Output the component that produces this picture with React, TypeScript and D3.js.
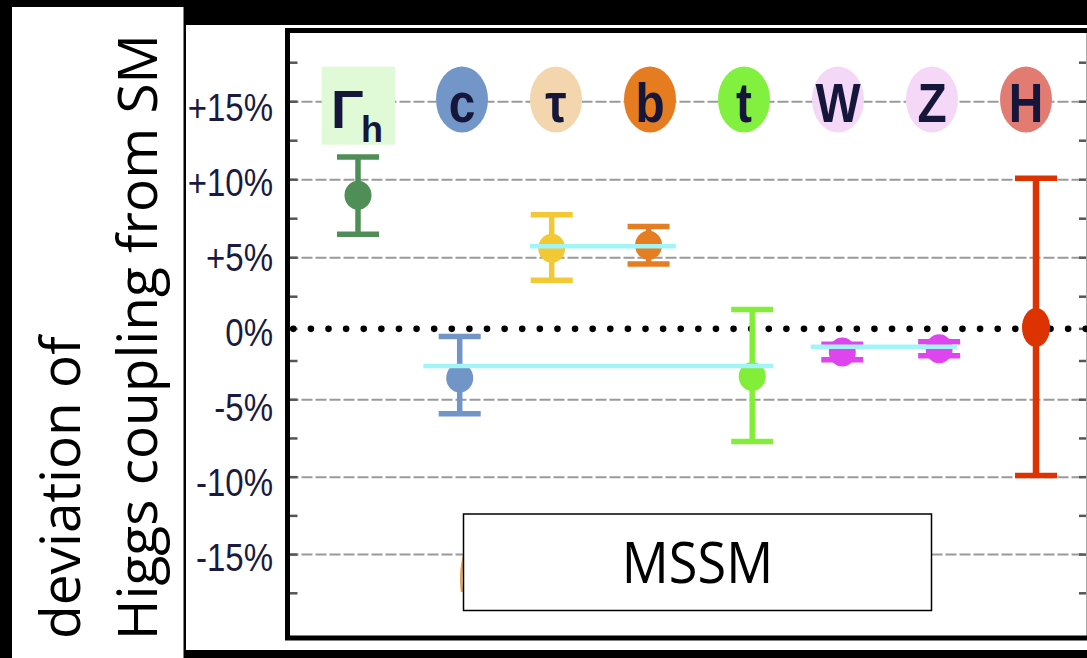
import React from "react";
import * as d3 from "d3";

// ---- data ----
const categories = ["Γh", "c", "τ", "b", "t", "W", "Z", "H"];
// position of each error bar along the category axis (category units)
const barPos = [0, 1.05, 2, 3, 4.07, 5, 6, 7];
const central = [9.0, -3.6, 5.6, 5.8, -3.5, -1.8, -1.55, 0.1];
const upper = [11.45, -0.6, 7.75, 7.0, 1.5, -1.2, -1.0, 10.1];
const lower = [6.5, -5.9, 3.55, 4.6, -7.7, -2.4, -2.1, -9.9];

// MSSM correlated predictions (cyan bands): from / to (category units) and value (%)
const groupFrom = [0.674, 1.776, 4.674];
const groupTo = [4.288, 3.282, 6.187];
const groupValue = [-2.82, 5.73, -1.39];

const tickValues = [15, 10, 5, 0, -5, -10, -15];
const tickLabels = ["+15%", "+10%", "+5%", "0%", "-5%", "-10%", "-15%"];
const gridValues = [15, 10, 5, -5, -10, -15];
const minorValues = [17.5, 12.5, 7.5, 2.5, -2.5, -7.5, -12.5, -17.5];

const barColors = ["#4f8f57", "#7195c6", "#f2c935", "#e57d22", "#82ee3a", "#de45ef", "#de45ef", "#dd3300"];
const labelFills = ["#e0fad7", "#7396c8", "#f4d6ae", "#e57c20", "#82f03e", "#f5d8f8", "#f5d8f8", "#e27c72"];

const axisTitle1 = "deviation of";
const axisTitle2 = "Higgs coupling from SM";
const modelName = "MSSM";

export default function App() {
  const W = 1087;
  const H = 658;
  const frameL = 287.5;
  const frameT = 30.5;
  const frameB = 638;
  const rightEdge = 1087;

  const y = d3.scaleLinear().domain([-17.5, -2.5, 2.5, 17.5]).range([593.3, 361, 296.7, 62.7]);
  const yLab = d3.scaleLinear().domain([-15, 15]).range([557.5, 107.5]);
  const x = d3.scaleLinear().domain([0, 7]).range([358, 1036]);
  const xLab = d3.scalePoint<string>().domain(categories).range([368, 1026]);

  const labelColor = "#16163a";
  const capHalf = 21;

  return (
    <svg
      width={W}
      height={H}
      style={{ position: "fixed", left: 0, top: 0, display: "block" }}
      xmlns="http://www.w3.org/2000/svg"
    >
      <defs>
        <filter id="blur" x="-5%" y="-200%" width="110%" height="500%">
          <feGaussianBlur stdDeviation="1.6" />
        </filter>
      </defs>
      <rect x={0} y={0} width={W} height={H} fill="#000" />
      {/* left title panel */}
      <rect x={12} y={7} width={171.5} height={H - 7} fill="#fff" />
      {/* chart panel */}
      <rect x={186} y={25} width={W - 186} height={625} fill="#fff" />

      {/* gridlines */}
      {gridValues.map((v) => (
        <line
          key={"g" + v}
          x1={frameL}
          x2={rightEdge}
          y1={y(v)}
          y2={y(v)}
          stroke="#9a9a9a"
          strokeWidth={2}
          strokeDasharray="11 3"
        />
      ))}
      {/* ticks left & right */}
      {[...gridValues, 0, ...minorValues].map((v) => (
        <g key={"t" + v}>
          <line x1={frameL} x2={frameL + 10} y1={y(v)} y2={y(v)} stroke="#555" strokeWidth={2.5} />
          <line x1={rightEdge - 8} x2={rightEdge} y1={y(v)} y2={y(v)} stroke="#555" strokeWidth={2.5} />
        </g>
      ))}
      <line x1={1086.5} x2={1086.5} y1={frameT} y2={frameB} stroke="#aaa" strokeWidth={1} />
      {/* zero line dotted */}
      <line
        x1={293.3}
        x2={rightEdge + 10}
        y1={y(0)}
        y2={y(0)}
        stroke="#000"
        strokeWidth={6.6}
        strokeLinecap="round"
        strokeDasharray="0 17.61"
      />

      {/* frame */}
      <path
        d={`M${rightEdge + 20},${frameT} L${frameL},${frameT} L${frameL},${frameB} L${rightEdge + 20},${frameB}`}
        fill="none"
        stroke="#000"
        strokeWidth={5}
      />

      {/* category labels */}
      {categories.map((c, i) => {
        const cx = xLab(c) as number;
        if (i === 0) {
          return (
            <g key={c}>
              <rect x={cx - 46.3} y={66.7} width={73.3} height={78} fill={labelFills[0]} />
              <text
                x={cx - 37}
                y={128}
                fontFamily="Liberation Sans, Arial, sans-serif"
                fontWeight="bold"
                fontSize={54}
                fill={labelColor}
              >
                Γ
              </text>
              <text
                x={cx - 7}
                y={141.5}
                fontFamily="Liberation Sans, Arial, sans-serif"
                fontWeight="bold"
                fontSize={36}
                fill={labelColor}
              >
                h
              </text>
            </g>
          );
        }
        return (
          <g key={c}>
            <ellipse cx={cx} cy={99.5} rx={26} ry={33} fill={labelFills[i]} />
            <text
              transform={`translate(${cx},121.5) scale(0.92,1.05)`}
              textAnchor="middle"
              fontFamily="Liberation Sans, Arial, sans-serif"
              fontWeight="bold"
              fontSize={52}
              fill={labelColor}
            >
              {c}
            </text>
          </g>
        );
      })}

      {/* error bars */}
      {categories.map((c, i) => {
        const cx = x(barPos[i]);
        const col = barColors[i];
        const isH = c === "H";
        return (
          <g key={"e" + c}>
            <line x1={cx} x2={cx} y1={y(upper[i])} y2={y(lower[i])} stroke={col} strokeWidth={isH ? 6.5 : 5.5} />
            <line x1={cx - capHalf} x2={cx + capHalf} y1={y(upper[i])} y2={y(upper[i])} stroke={col} strokeWidth={5.5} />
            <line x1={cx - capHalf} x2={cx + capHalf} y1={y(lower[i])} y2={y(lower[i])} stroke={col} strokeWidth={5.5} />
            <ellipse cx={cx} cy={y(central[i])} rx={isH ? 14 : 13.5} ry={isH ? 19.5 : 14.5} fill={col} />
          </g>
        );
      })}

      {/* MSSM correlated bands */}
      {groupValue.map((v, i) => (
        <g key={"m" + i}>
          <line
            x1={x(groupFrom[i])}
            x2={x(groupTo[i])}
            y1={y(v) + 4}
            y2={y(v) + 4}
            stroke="#8a8a8a"
            strokeWidth={4}
            filter="url(#blur)"
            opacity={0.8}
          />
          <line x1={x(groupFrom[i])} x2={x(groupTo[i])} y1={y(v)} y2={y(v)} stroke="#a2f5f7" strokeWidth={4.5} />
        </g>
      ))}

      {/* y tick labels */}
      {tickValues.map((v, i) => (
        <text
          key={"l" + v}
          transform={`translate(273,${yLab(v)}) scale(1,1.15)`}
          dy="0.36em"
          textAnchor="end"
          fontFamily="Liberation Sans, Arial, sans-serif"
          fontSize={33}
          fill="#1a1a40"
        >
          {tickLabels[i]}
        </text>
      ))}

      {/* partly hidden mark behind the model box */}
      <path d="M466,549 Q459,570 462,592" fill="none" stroke="#e6a45a" strokeWidth={2.5} />

      {/* model box */}
      <rect x={463.5} y={514} width={468} height={96.5} fill="#fff" stroke="#000" strokeWidth={1.5} />
      <text
        transform="translate(697.5,583) scale(0.95,1.03)"
        textAnchor="middle"
        fontFamily="Open Sans, sans-serif"
        fontSize={55}
        fill="#000"
      >
        {modelName}
      </text>

      {/* left axis title */}
      <text
        transform="translate(80,639) rotate(-90)"
        fontFamily="Open Sans, sans-serif"
        fontSize={55}
        fill="#000"
      >
        {axisTitle1}
      </text>
      <text
        transform="translate(157,640) rotate(-90)"
        fontFamily="Open Sans, sans-serif"
        fontSize={55}
        fill="#000"
      >
        {axisTitle2}
      </text>
    </svg>
  );
}
